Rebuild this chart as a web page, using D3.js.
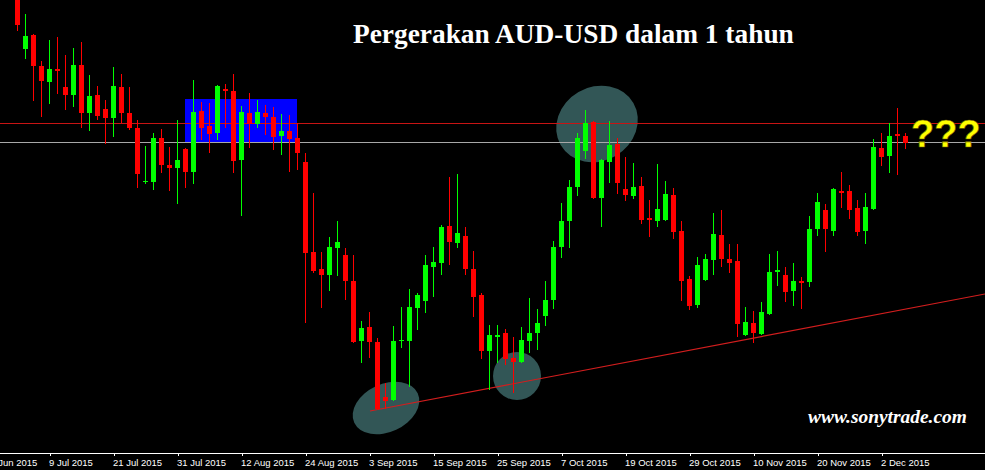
<!DOCTYPE html>
<html><head><meta charset="utf-8">
<script src="https://cdn.jsdelivr.net/npm/d3@7/dist/d3.min.js"></script>
<style>html,body{margin:0;padding:0;background:#000;overflow:hidden}svg{display:block}</style>
</head><body>
<svg id="chart" width="985" height="470"></svg>
<script>
// ---- data (AUD/USD daily) ----
const opens = [0.7562,0.74765,0.74975,0.7451,0.7427,0.74465,0.74195,0.74075,0.74525,0.73805,
0.74075,0.73865,0.7373,0.74195,0.73805,0.7358,0.7277,0.7277,0.7343,0.73025,
0.7298,0.73265,0.7292,0.73835,0.7361,0.73505,0.74165,0.74135,0.731,0.73805,
0.7364,0.73805,0.73745,0.7346,0.73535,0.7343,0.7307,0.7172,0.71465,0.71375,
0.7178,0.71675,0.71285,0.70385,0.70595,0.7037,0.69545,0.695,0.70385,0.70385,
0.7088,0.70985,0.71495,0.71555,0.7211,0.71855,0.7196,0.71465,0.71075,0.70235,
0.70445,0.70505,0.7013,0.7007,0.70385,0.70505,0.7076,0.71,0.71795,0.72185,
0.72695,0.73235,0.7367,0.7253,0.7307,0.7334,0.72665,0.7256,0.7271,0.7223,
0.72185,0.722,0.72575,0.72035,0.71315,0.70925,0.713,0.716,0.71975,0.71615,
0.71585,0.70475,0.70655,0.7049,0.7079,0.7142,0.71375,0.71135,0.71285,0.7127,
0.72065,0.7235,0.72035,0.72635,0.72635,0.7238,0.72035,0.72365,0.7328,0.7316,
0.7349,0.7346];
const highs = [0.7568,0.7529,0.7499,0.74585,0.749,0.74945,0.74675,0.7478,0.7487,0.74375,
0.7421,0.74,0.74495,0.7439,0.74195,0.737,0.7331,0.73505,0.73565,0.73295,
0.737,0.7328,0.743,0.7397,0.73955,0.74225,0.7424,0.7439,0.7391,0.74105,
0.74,0.73925,0.73895,0.7379,0.73775,0.73655,0.73205,0.72605,0.7172,0.71945,
0.72185,0.7178,0.71675,0.70685,0.7082,0.7043,0.69755,0.7061,0.70895,0.71165,
0.71105,0.71675,0.71795,0.72125,0.72845,0.7289,0.72095,0.71735,0.71105,0.70625,
0.70625,0.70565,0.70445,0.70595,0.7103,0.70865,0.71285,0.71885,0.72455,0.728,
0.73505,0.7385,0.73685,0.73115,0.73685,0.7343,0.73145,0.73055,0.72845,0.725,
0.7304,0.72785,0.7268,0.72185,0.7136,0.71645,0.7169,0.72305,0.7235,0.7184,
0.7184,0.70895,0.70835,0.7097,0.7169,0.71735,0.71495,0.71555,0.71345,0.7226,
0.72605,0.7244,0.7268,0.7292,0.72725,0.725,0.72605,0.73415,0.73505,0.73655,
0.7388,0.73505];
const lows = [0.75035,0.74615,0.73985,0.73745,0.7394,0.7409,0.7385,0.73895,0.7358,0.73535,
0.737,0.7334,0.73445,0.73655,0.7355,0.7268,0.7274,0.7265,0.72905,0.72635,
0.7244,0.7268,0.7274,0.734,0.73205,0.734,0.7358,0.72905,0.7226,0.7328,
0.7358,0.73475,0.7325,0.73175,0.7292,0.7295,0.70655,0.71405,0.7088,0.71135,
0.7136,0.71,0.70355,0.70055,0.7013,0.6935,0.69365,0.69485,0.7028,0.69695,
0.7055,0.70805,0.71045,0.71375,0.71525,0.7178,0.71375,0.70745,0.70115,0.6965,
0.70055,0.70025,0.69605,0.70055,0.70205,0.7025,0.7061,0.70865,0.7163,0.7178,
0.7256,0.73115,0.72515,0.72095,0.72755,0.7259,0.72485,0.72515,0.7214,0.71945,
0.72095,0.72185,0.71915,0.70985,0.7085,0.7088,0.71285,0.71375,0.71495,0.71405,
0.70445,0.7046,0.70355,0.70475,0.70775,0.7121,0.7097,0.7091,0.70865,0.71195,
0.7196,0.7172,0.7196,0.7238,0.72215,0.7196,0.7184,0.7235,0.7301,0.72905,
0.72875,0.73265];
const closes = [0.75125,0.7496,0.7451,0.74285,0.74465,0.74435,0.74075,0.74525,0.73805,0.7406,
0.7376,0.7373,0.7421,0.73805,0.7358,0.7289,0.72785,0.7343,0.73025,0.7298,
0.731,0.7292,0.7382,0.7358,0.7349,0.7421,0.74135,0.73085,0.7382,0.7364,
0.7382,0.73745,0.73445,0.73535,0.73415,0.73205,0.71705,0.71435,0.71375,0.71795,
0.7187,0.71285,0.7037,0.7058,0.7037,0.69365,0.69485,0.70385,0.704,0.70895,
0.71075,0.71525,0.7157,0.72095,0.7187,0.72005,0.71465,0.71045,0.70235,0.70475,
0.70475,0.70115,0.7007,0.704,0.70505,0.70655,0.71,0.71795,0.72185,0.72695,
0.7343,0.73655,0.7253,0.731,0.73325,0.72755,0.72575,0.72695,0.722,0.722,
0.72365,0.7259,0.7202,0.71285,0.7091,0.71525,0.71615,0.7199,0.71615,0.71555,
0.7064,0.7067,0.70505,0.7082,0.7142,0.7145,0.7112,0.71285,0.71255,0.72065,
0.7247,0.72065,0.72665,0.72605,0.7235,0.7202,0.72395,0.73295,0.73145,0.7346,
0.7346,0.73355];

const tickIndex = [-4,4,12,20,28,36,44,52,60,68,76,84,92,100,108];
const tickLabels = ["29 Jun 2015","9 Jul 2015","21 Jul 2015","31 Jul 2015","12 Aug 2015",
"24 Aug 2015","3 Sep 2015","15 Sep 2015","25 Sep 2015","7 Oct 2015","19 Oct 2015",
"29 Oct 2015","10 Nov 2015","20 Nov 2015","2 Dec 2015"];

const resistanceLevel = 0.73655;   // red horizontal line
const supportLevel = 0.7337;       // grey horizontal line
const zoneIdx = [20.9, 34.9];      // blue box (bar index range)
const zonePrice = [0.7337, 0.74015];
const trendIdx = [44.06, 120.94];  // rising trend line
const trendPrice = [0.69335, 0.7109];
const circleIdx = [46.06, 62.44, 72.44];
const circlePrice = [0.6938, 0.6986, 0.7364];

const title = "Pergerakan AUD-USD dalam 1 tahun";
const watermark = "www.sonytrade.com";
const question = "???";

// ---- drawing ----
const W = 985, H = 470, axisY = 453;
const svg = d3.select("#chart");
svg.append("rect").attr("width", W).attr("height", H).attr("fill", "#000");

const x = d3.scaleLinear().domain([0, opens.length - 1]).range([17.5, 905.5]);
const y = d3.scaleLinear().domain([0.6845, 0.7550]).range([H, 0]);

svg.append("clipPath").attr("id", "plot").append("rect")
  .attr("x", 0).attr("y", 0).attr("width", W).attr("height", axisY);
const g = svg.append("g").attr("clip-path", "url(#plot)");

// blue zone
g.append("rect")
  .attr("x", Math.round(x(zoneIdx[0])))
  .attr("y", Math.round(y(zonePrice[1])))
  .attr("width", Math.round(x(zoneIdx[1]) - x(zoneIdx[0])))
  .attr("height", Math.round(y(zonePrice[0]) - y(zonePrice[1])))
  .attr("fill", "#0000ff");

// highlight ellipses
const ellStyle = [{rx: 35, ry: 24, rot: -25}, {rx: 24, ry: 24, rot: 0}, {rx: 42, ry: 37, rot: -30}];
g.selectAll("ellipse.hl").data(circleIdx).join("ellipse")
  .attr("class", "hl")
  .attr("cx", 0).attr("cy", 0)
  .attr("rx", (d, i) => ellStyle[i].rx).attr("ry", (d, i) => ellStyle[i].ry)
  .attr("transform", (d, i) => `translate(${x(d)},${y(circlePrice[i])}) rotate(${ellStyle[i].rot})`)
  .attr("fill", "#325656");

// horizontal levels
g.append("line").attr("x1", 0).attr("x2", W)
  .attr("y1", Math.round(y(resistanceLevel)) + 0.5).attr("y2", Math.round(y(resistanceLevel)) + 0.5)
  .attr("stroke", "#c81414").attr("stroke-width", 1);
g.append("line").attr("x1", 0).attr("x2", W)
  .attr("y1", Math.round(y(supportLevel)) + 0.5).attr("y2", Math.round(y(supportLevel)) + 0.5)
  .attr("stroke", "#a8a8a8").attr("stroke-width", 1);

// trend line
g.append("line")
  .attr("x1", x(trendIdx[0])).attr("y1", y(trendPrice[0]))
  .attr("x2", x(trendIdx[1])).attr("y2", y(trendPrice[1]))
  .attr("stroke", "#d21e1e").attr("stroke-width", 1.2);

// candles
const bars = d3.range(opens.length).map(i => ({i, o: opens[i], h: highs[i], l: lows[i], c: closes[i]}));
const col = d => d.c >= d.o ? "#00ff00" : "#ff0000";
const cg = g.append("g").attr("shape-rendering", "crispEdges");
cg.selectAll("rect.wick").data(bars).join("rect").attr("class", "wick")
  .attr("x", d => Math.floor(x(d.i)))
  .attr("y", d => Math.round(y(d.h)))
  .attr("width", 1)
  .attr("height", d => Math.max(1, Math.round(y(d.l)) - Math.round(y(d.h))))
  .attr("fill", col);
cg.selectAll("rect.body").data(bars).join("rect").attr("class", "body")
  .attr("x", d => Math.round(x(d.i) - 2.5))
  .attr("y", d => Math.round(y(Math.max(d.o, d.c))))
  .attr("width", 5)
  .attr("height", d => Math.max(1, Math.round(y(Math.min(d.o, d.c))) - Math.round(y(Math.max(d.o, d.c)))))
  .attr("fill", col);

// x axis
svg.append("line").attr("x1", 0).attr("x2", W).attr("y1", axisY + 0.5).attr("y2", axisY + 0.5)
  .attr("stroke", "#ffffff").attr("stroke-width", 1);
const xAxis = d3.axisBottom(x).tickValues(tickIndex)
  .tickFormat((d, i) => tickLabels[i]).tickSize(3).tickPadding(2);
const ax = svg.append("g").attr("transform", `translate(0,${axisY})`).call(xAxis);
ax.select(".domain").remove();
ax.selectAll(".tick line").attr("stroke", "#fff").attr("shape-rendering", "crispEdges");
ax.selectAll(".tick text")
  .attr("fill", "#fff").attr("text-anchor", "start").attr("x", -1).attr("dy", null).attr("y", 13)
  .style("font-family", "'Liberation Sans', Arial, sans-serif").style("font-size", "9.5px");

// title
const t = svg.append("text").attr("x", 353).attr("y", 43).text(title)
  .attr("fill", "#ffffff").style("font-family", "'Liberation Serif', 'Times New Roman', serif")
  .style("font-weight", "bold").style("font-size", "27px");
const tw = t.node().getComputedTextLength();
t.style("font-size", (27 * 441 / tw).toFixed(2) + "px");

// ??? marker
svg.append("text").attr("x", 911).attr("y", 147).text(question)
  .attr("fill", "#ffff00").attr("stroke", "#6a5a00").attr("stroke-width", 0.6)
  .style("font-family", "'Liberation Sans', Arial, sans-serif").style("font-weight", "bold")
  .style("font-size", "38px");

// watermark
const w = svg.append("text").attr("x", 808).attr("y", 423).text(watermark)
  .attr("fill", "#ffffff").style("font-family", "'Liberation Serif', 'Times New Roman', serif")
  .style("font-weight", "bold").style("font-style", "italic").style("font-size", "16px");
const ww = w.node().getComputedTextLength();
w.style("font-size", (16 * 159 / ww).toFixed(2) + "px");
</script>
</body></html>
